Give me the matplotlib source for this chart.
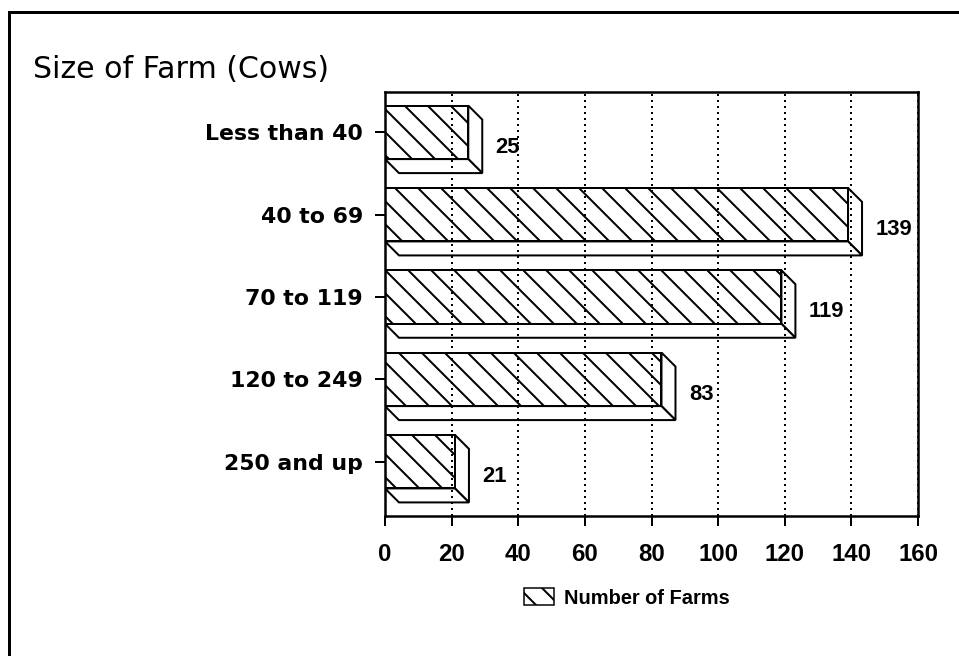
import matplotlib.pyplot as plt
import numpy as np
from matplotlib.patches import Polygon, Patch
from matplotlib.lines import Line2D

# data
categories = ['Less than 40', '40 to 69', '70 to 119', '120 to 249', '250 and up']
farms = [25, 139, 119, 83, 21]
x_ticks = [0, 20, 40, 60, 80, 100, 120, 140, 160]
title = 'Size of Farm (Cows)'
legend_label = 'Number of Farms'

DPI = 138  # so the hatch cell comes out ~23 px like the scan


def px(n):
    # pixels -> points
    return n * 72.0 / DPI


plt.rcParams['font.family'] = ['Liberation Sans', 'DejaVu Sans']
plt.rcParams['hatch.linewidth'] = px(2)

fig = plt.figure(figsize=(959 / DPI, 656 / DPI), dpi=DPI)
ax = fig.add_axes([385 / 959, 1 - 516 / 656, (918 - 385) / 959, (516 - 92) / 656])

ypos = np.arange(len(categories))
bar_h = 0.65
dx, dy = 4.2, 0.17   # depth of the fake 3d

#%% depth faces (side + floor), then the hatched front
for y, v in zip(ypos, farms):
    top = y - bar_h / 2
    bot = y + bar_h / 2
    side = Polygon([(v, top), (v + dx, top + dy), (v + dx, bot + dy), (v, bot)],
                   closed=True, fc='white', ec='black', lw=px(2), zorder=1)
    floor = Polygon([(0, bot), (v, bot), (v + dx, bot + dy), (dx, bot + dy)],
                    closed=True, fc='white', ec='black', lw=px(2), zorder=1)
    ax.add_patch(side)
    ax.add_patch(floor)
    ax.text(v + dx + 4, y + 0.18, str(v), ha='left', va='center',
            fontsize=px(22), fontweight='bold', zorder=4)

ax.barh(ypos, farms, height=bar_h, color='white', edgecolor='black',
        hatch='\\\\', lw=px(2), zorder=1.5)

#%% axes styling
ax.set_xlim(0, 160)
ax.set_ylim(4.66, -0.49)
ax.set_xticks(x_ticks)
ax.set_xticklabels([str(t) for t in x_ticks], fontsize=px(24), fontweight='bold')
ax.set_yticks(ypos)
ax.set_yticklabels(categories, fontsize=px(22), fontweight='bold', family='DejaVu Sans')
ax.tick_params(direction='out', length=px(10), width=px(2), color='black', pad=px(12))
ax.tick_params(axis='x', pad=px(17))
ax.set_axisbelow(False)
ax.grid(axis='x', color='black', linestyle=(0, (1, 2)), linewidth=px(2))
for s in ax.spines.values():
    s.set_linewidth(px(2.5))

#%% title, legend, frame
fig.text(33 / 959, 1 - 70 / 656, title, fontsize=px(30), va='center', family='DejaVu Sans')

handle = Patch(fc='white', ec='black', hatch='\\\\', lw=px(1.5))
fig.legend([handle], [legend_label], loc='center', bbox_to_anchor=(627 / 959, 1 - 598 / 656),
           frameon=False, prop=dict(weight='bold', size=px(20)),
           handlelength=1.5, handleheight=0.9, handletextpad=0.5)

fig.add_artist(Line2D([9 / 959, 9 / 959], [0, 1 - 12 / 656], transform=fig.transFigure,
                      color='black', lw=px(3)))
fig.add_artist(Line2D([9 / 959, 959 / 959], [1 - 12 / 656, 1 - 12 / 656], transform=fig.transFigure,
                      color='black', lw=px(3)))

fig.savefig('out.png', dpi=DPI)
